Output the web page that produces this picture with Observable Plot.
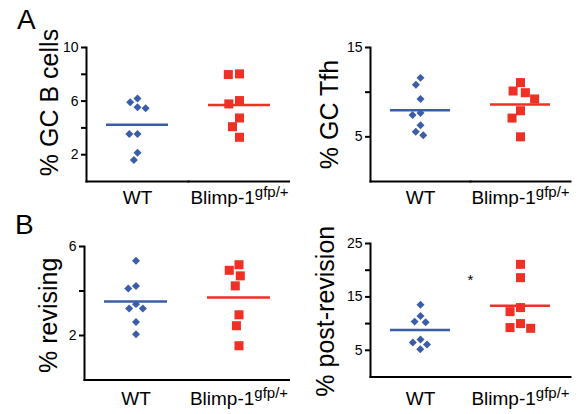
<!DOCTYPE html>
<html><head><meta charset="utf-8">
<script src="https://cdn.jsdelivr.net/npm/d3@7"></script>
<script src="https://cdn.jsdelivr.net/npm/@observablehq/plot@0.6"></script>
<style>
body{margin:0;background:#fff}
#wrap{position:relative;width:580px;height:414px;font-family:"Liberation Sans",Arial,sans-serif;background:#fff;overflow:hidden}
#wrap svg{position:absolute}
.letter{position:absolute;font-size:28px;line-height:28px;color:#000}
</style></head><body>
<div id="wrap">
  <div class="letter" style="left:17px;top:6px">A</div>
  <div class="letter" style="left:15px;top:211px">B</div>
</div>
<script>
// ---- data ----
const groups = ["WT", "Blimp-1"];
const groupSup = "gfp/+";

const gcbWT = [6.19, 5.91, 5.54, 5.46, 3.54, 3.54, 2.15, 1.60];
const gcbBlimp = [8.03, 7.98, 6.04, 5.79, 4.74, 4.09, 3.30];
const gcbTicks = [2, 4, 6, 8, 10];
const gcbTickLabels = [2, 6, 10];

const tfhWT = [11.6, 10.84, 9.24, 7.66, 7.44, 6.31, 5.56, 5.19];
const tfhBlimp = [11.07, 10.13, 9.94, 9.24, 7.92, 7.10, 5.0];
const tfhTicks = [5, 10, 15];
const tfhTickLabels = [5, 15];

const revWT = [5.36, 4.23, 4.11, 3.41, 3.21, 3.21, 2.61, 2.06];
const revBlimp = [5.18, 4.93, 4.68, 4.23, 2.93, 2.44, 1.54];
const revTicks = [2, 4, 6];
const revTickLabels = [2, 6];

const postWT = [13.55, 11.44, 10.37, 10.24, 7.0, 6.45, 6.07, 5.2];
const postBlimp = [21.1, 18.6, 13.0, 12.24, 10.0, 9.25, 9.12];
const postTicks = [5, 10, 15, 20, 25];
const postTickLabels = [5, 15, 25];

const panels = [
  {label: "% GC B cells", wt: gcbWT, bl: gcbBlimp, ticks: gcbTicks, labeled: gcbTickLabels, star: false,
   left: 0, top: 0, mL: 85, mR: 0, mT: 47, mB: 26, lx: -29, ly: -12, xPad: 8.5},
  {label: "% GC Tfh", wt: tfhWT, bl: tfhBlimp, ticks: tfhTicks, labeled: tfhTickLabels, star: false,
   left: 290, top: 0, mL: 79, mR: 10, mT: 47, mB: 26, lx: -33, ly: 0, xPad: 8.5},
  {label: "% revising", wt: revWT, bl: revBlimp, ticks: revTicks, labeled: revTickLabels, star: false,
   left: 0, top: 207, mL: 83, mR: 0, mT: 39, mB: 34.5, lx: -28, ly: 2, xPad: 11},
  {label: "% post-revision", wt: postWT, bl: postBlimp, ticks: postTicks, labeled: postTickLabels, star: true,
   left: 290, top: 207, mL: 80, mR: 10, mT: 36, mB: 37.5, lx: -37, ly: 1, xPad: 14}
];

const blue = "#3a5ca9", red = "#ee3124";
const font = "'Liberation Sans', Arial, sans-serif";
const wrap = document.getElementById("wrap");

for (const p of panels) {
  const data = [
    ...p.wt.map(v => ({group: groups[0], value: v})),
    ...p.bl.map(v => ({group: groups[1], value: v}))
  ];
  const marks = [
    Plot.frame({anchor: "left", facetAnchor: "left", strokeWidth: 2}),
    Plot.frame({anchor: "bottom", strokeWidth: 2}),
    Plot.axisY(p.ticks, {tickSize: 5, tickPadding: 3, strokeWidth: 2, fontSize: 14, label: null,
      tickFormat: d => p.labeled.includes(d) ? String(d) : ""}),
    Plot.axisFx({anchor: "bottom", tickSize: 0, tickPadding: p.xPad, fontSize: 19, label: null}),
    Plot.ruleY(data, Plot.groupZ({y: "mean"}, {fx: "group", y: "value", stroke: "group", strokeWidth: 2.5, insetLeft: 20, insetRight: 20})),
    Plot.dot(data.filter(d => d.group === groups[0]), Plot.dodgeX("middle", {fx: "group", y: "value", r: 3.6, padding: 4.8, symbol: "group", fill: "group", stroke: null})),
    Plot.dot(data.filter(d => d.group === groups[1]), Plot.dodgeX("middle", {fx: "group", y: "value", r: 5.1, padding: 1.8, symbol: "group", fill: "group", stroke: null})),
    Plot.text([p.label], {facet: "super", frameAnchor: "left", rotate: -90, textAnchor: "middle", lineAnchor: "bottom", dx: p.lx, dy: p.ly, fontSize: 25})
  ];
  if (p.star) marks.push(Plot.text(["*"], {facet: "super", frameAnchor: "top", lineAnchor: "top", dy: 30.5, fontSize: 15}));
  const svg = Plot.plot({
    width: 290, height: 207,
    marginLeft: p.mL, marginRight: p.mR, marginTop: p.mT, marginBottom: p.mB,
    style: {fontFamily: font, color: "black", background: "white"},
    fx: {domain: groups, padding: 0, label: null},
    y: {domain: [0, d3.max(p.ticks)]},
    color: {domain: groups, range: [blue, red]},
    symbol: {domain: groups, range: ["diamond2", "square"]},
    marks
  });
  svg.style.left = p.left + "px";
  svg.style.top = p.top + "px";
  d3.select(svg).selectAll("text").filter(function() { return this.textContent === groups[1]; })
    .append("tspan").attr("font-size", 15).attr("dy", -7).text(groupSup);
  wrap.appendChild(svg);
}
// keep letters on top
wrap.querySelectorAll(".letter").forEach(el => wrap.appendChild(el));
</script>
</body></html>
